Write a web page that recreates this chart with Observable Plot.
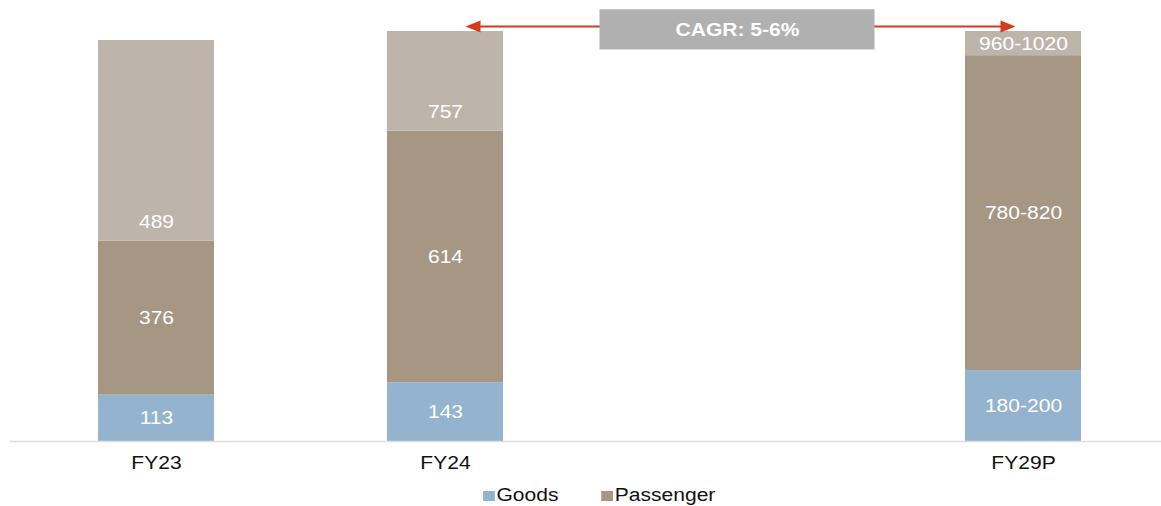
<!DOCTYPE html>
<html>
<head>
<meta charset="utf-8">
<script src="https://cdn.jsdelivr.net/npm/d3@7"></script>
<script src="https://cdn.jsdelivr.net/npm/@observablehq/plot@0.6"></script>
<style>
  html, body { margin: 0; padding: 0; background: #ffffff; }
  body { width: 1161px; height: 506px; overflow: hidden; font-family: "Liberation Sans", Arial, sans-serif; }
  #chart svg { display: block; }
  #legend { margin-top: 7px; transform: translateX(19px) scaleX(1.17); transform-origin: 580.5px 50%; }
  #legend .lg-swatches { justify-content: center !important; min-height: 0 !important; font-family: "Liberation Sans", Arial, sans-serif !important; font-size: 18px !important; color: #111 !important; margin: 0 !important; line-height: 21px; }
  #legend .lg-swatch { margin-right: 37px !important; }
  #legend .lg-swatch:last-child { margin-right: 0 !important; }
  #legend .lg-swatch > svg { margin-right: 1px !important; }
</style>
</head>
<body>
<div id="chart"></div>
<div id="legend"></div>
<script>
// ---- data ----
const categories = ["FY23", "FY24", " ", "FY29P"];   // " " is the empty slot between FY24 and FY29P
const years = ["FY23", "FY24", "FY29P"];
const goods = [113, 143, 173];
const passenger = [376, 614, 768];
const totals = [489, 757, 990];
const goodsLabels = ["113", "143", "180-200"];
const passengerLabels = ["376", "614", "780-820"];
const totalLabels = ["489", "757", "960-1020"];
const seriesNames = ["Goods", "Passenger", "Total"];
const seriesColors = ["#94b3ce", "#a69684", "#beb5aa"];
const legendNames = ["Goods", "Passenger"];
const cagrLabel = "CAGR: 5-6%";
const cagrFrom = "FY24";
const cagrTo = "FY29P";

// ---- tables built from the arrays ----
const rows = years.flatMap((year, i) => [
  {year, series: "Goods", value: goods[i], label: goodsLabels[i]},
  {year, series: "Passenger", value: passenger[i], label: passengerLabels[i]},
  {year, series: "Total", value: totals[i], label: totalLabels[i]}
]);
const totalRows = years.map((year, i) => ({year, base: goods[i] + passenger[i], label: totalLabels[i]}));

// annotation placement (value space)
const yMax = 1000;
const arrowY = 1012;
const boxY1 = 955, boxY2 = 1053, textY = 1004;
const red = "#d8391c";

const leftHead = {draw(ctx) { ctx.moveTo(0, 0); ctx.lineTo(15, -6); ctx.lineTo(15, 6); ctx.closePath(); }};
const rightHead = {draw(ctx) { ctx.moveTo(0, 0); ctx.lineTo(-15, -6); ctx.lineTo(-15, 6); ctx.closePath(); }};

const plot = Plot.plot({
  width: 1161,
  height: 478,
  marginTop: 31,
  marginBottom: 37,
  marginLeft: 10,
  marginRight: 0,
  style: {fontFamily: "Liberation Sans, Arial, sans-serif", background: "#ffffff", overflow: "visible"},
  x: {domain: categories, range: [10.9, 1168.5], paddingInner: 0.6, paddingOuter: 0.3, align: 0.5, label: null},
  y: {domain: [0, yMax], axis: null},
  color: {domain: seriesNames, range: seriesColors},
  marks: [
    Plot.barY(rows, Plot.stackY({x: "year", y: "value", z: "series", fill: "series", clip: true})),
    Plot.ruleY([0], {stroke: "#dedede", strokeWidth: 1.6}),
    Plot.text(rows.filter(d => d.series !== "Total"),
      Plot.stackY({x: "year", y: "value", z: "series", text: "label", fill: "white", fontSize: 18})),
    Plot.text(totalRows.filter(d => d.year !== "FY29P"),
      {x: "year", y: "base", text: "label", fill: "white", fontSize: 18, dy: -19}),
    Plot.text(totalRows.filter(d => d.year === "FY29P"),
      {x: "year", y: "base", text: "label", fill: "white", fontSize: 18, dy: -11.5}),
    Plot.axisX({tickSize: 0, tickPadding: 15, fontSize: 18, fill: "#111", label: null,
      tickFormat: d => d.trim()}),
    // CAGR arrow
    Plot.arrow([{from: " ", to: cagrFrom}], {x1: "from", x2: "to", y1: () => arrowY, y2: () => arrowY,
      stroke: red, strokeWidth: 2, headLength: 0, insetEnd: 28}),
    Plot.arrow([{from: " ", to: cagrTo}], {x1: "from", x2: "to", y1: () => arrowY, y2: () => arrowY,
      stroke: red, strokeWidth: 2, headLength: 0, insetEnd: 14}),
    Plot.dot([{x: cagrFrom}], {x: "x", y: () => arrowY, symbol: leftHead, fill: red, stroke: null, dx: 20}),
    Plot.dot([{x: cagrTo}], {x: "x", y: () => arrowY, symbol: rightHead, fill: red, stroke: null, dx: -8}),
    Plot.barY([{x: " "}], {x: "x", y1: () => boxY1, y2: () => boxY2, fill: "#b0b0b0",
      insetLeft: -76.5, insetRight: -82.5}),
    Plot.text([{x: " ", label: cagrLabel}], {x: "x", y: () => textY, text: "label", fill: "white",
      fontSize: 18, fontWeight: "bold", dx: 3})
  ]
});

// horizontally widen glyphs like the reference
plot.querySelectorAll("text").forEach(t => {
  const tr = t.getAttribute("transform");
  if (tr && tr.includes("translate")) t.setAttribute("transform", tr + " scale(1.17,1)");
});
document.getElementById("chart").append(plot);

const legend = Plot.legend({
  color: {domain: legendNames, range: seriesColors.slice(0, 2)},
  swatchSize: 10,
  className: "lg"
});
document.getElementById("legend").append(legend);
</script>
</body>
</html>
